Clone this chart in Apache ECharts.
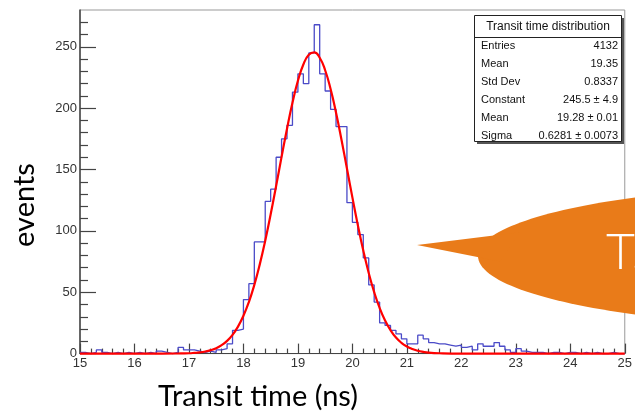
<!DOCTYPE html>
<html><head><meta charset="utf-8">
<script src="https://cdn.jsdelivr.net/npm/echarts@6/dist/echarts.min.js"></script>
<style>html,body{margin:0;padding:0;background:#fff}#c{width:635px;height:415px}</style>
</head><body><div id="c"></div>
<script>
// ---- data ----
const binStart = 15.0;
const binWidth = 0.1;
const counts = [
  1, 0, 1, 3, 1, 0, 1, 0, 1, 0,        // 15.0 - 15.9
  1, 0, 1, 0, 2, 1, 0, 1, 5, 3,        // 16.0 - 16.9
  3, 2, 1, 2, 1, 3, 4, 8, 19, 20,      // 17.0 - 17.9
  44, 57, 91, 91, 124, 134, 160, 175, 186, 213, // 18.0 - 18.9
  228, 220, 245, 268, 228, 214, 199, 185, 185, 123, // 19.0 - 19.9
  107, 97, 78, 56, 42, 25, 23, 19, 16, 12, // 20.0 - 20.9
  8, 8, 15, 12, 9, 8, 8, 7, 6, 7,      // 21.0 - 21.9
  5, 6, 3, 8, 6, 6, 9, 6, 3, 1,        // 22.0 - 22.9
  4, 2, 1, 1, 1, 0, 1, 1, 0, 1,        // 23.0 - 23.9
  1, 0, 1, 0, 1, 0, 0, 1, 0, 0         // 24.0 - 24.9
];
const fitX = [15, 16, 16.5, 16.8, 17.0, 17.1, 17.2, 17.3, 17.4, 17.5, 17.6, 17.7, 17.8, 17.9,
  18.0, 18.1, 18.2, 18.3, 18.4, 18.5, 18.6, 18.7, 18.8, 18.9,
  19.0, 19.1, 19.2, 19.3, 19.4, 19.5, 19.6, 19.7, 19.8, 19.9,
  20.0, 20.1, 20.2, 20.3, 20.4, 20.5, 20.6, 20.7, 20.8, 20.9,
  21.0, 21.1, 21.2, 21.3, 21.4, 21.6, 22, 23, 24, 25];
const fitY = [0, 0, 0, 0.1, 0.3, 0.6, 1.0, 1.7, 2.8, 4.4, 6.9, 10.4, 15.3, 22.0,
  30.8, 42.0, 56.0, 72.7, 92.0, 113.5, 136.6, 160.3, 183.3, 204.4,
  222.3, 235.6, 243.5, 245.4, 241.1, 230.9, 215.6, 196.3, 174.3, 150.8,
  127.3, 104.7, 84.0, 65.7, 50.1, 37.2, 27.0, 19.1, 13.1, 8.8,
  5.8, 3.7, 2.3, 1.4, 0.8, 0.3, 0, 0, 0, 0];
const xTicks = [15, 16, 17, 18, 19, 20, 21, 22, 23, 24, 25];
const yTicks = [0, 50, 100, 150, 200, 250];
const yMinorTicks = [10, 20, 30, 40, 60, 70, 80, 90, 110, 120, 130, 140, 160, 170, 180, 190,
  210, 220, 230, 240, 260, 270];
const statsTitle = 'Transit time distribution';
const statsLabels = ['Entries', 'Mean', 'Std Dev', 'Constant', 'Mean', 'Sigma'];
const statsValues = ['4132', '19.35', '0.8337', '245.5 \u00b1 4.9', '19.28 \u00b1 0.01', '0.6281 \u00b1 0.0073'];
const xTitle = 'Transit time (ns)';
const yTitle = 'events';
const calloutText = 'T.';

// ---- build ----
const histData = counts.map((v, i) => [+(binStart + i * binWidth).toFixed(1), v]);
histData.push([+(binStart + counts.length * binWidth).toFixed(1), counts[counts.length - 1]]);
const fitData = fitX.map((x, i) => [x, fitY[i]]);

const chart = echarts.init(document.getElementById('c'), null, {renderer: 'canvas'});
const axisCol = '#444';
const labelFont = {fontFamily: '"Liberation Sans", Arial, sans-serif', fontSize: 13, color: '#333'};

const graphics = [];
// callout
graphics.push({type: 'ellipse', z: 100, shape: {cx: 828, cy: 256, rx: 350, ry: 70}, style: {fill: '#E97B19'}});
graphics.push({type: 'polygon', z: 100, shape: {points: [[417, 245], [520, 232.3], [500, 261.6]]}, style: {fill: '#E97B19'}});
graphics.push({type: 'text', z: 101, style: {x: 606, y: 253, text: calloutText, fill: '#fff',
  font: '300 50px Lato, "Open Sans", sans-serif', textAlign: 'left', textVerticalAlign: 'middle'}});
// stats box
const bx = 474.5, by = 15.5, bw = 147, bh = 126;
graphics.push({type: 'rect', z: 110, shape: {x: bx + 2.5, y: by + 2.5, width: bw, height: bh}, style: {fill: '#555'}});
graphics.push({type: 'rect', z: 111, shape: {x: bx, y: by, width: bw, height: bh}, style: {fill: '#fff', stroke: '#222', lineWidth: 1}});
graphics.push({type: 'line', z: 112, shape: {x1: bx, y1: 37.5, x2: bx + bw, y2: 37.5}, style: {stroke: '#222', lineWidth: 1}});
graphics.push({type: 'text', z: 112, style: {x: bx + bw / 2, y: 26.5, text: statsTitle, fill: '#111',
  font: '12px "Liberation Sans", Arial, sans-serif', textAlign: 'center', textVerticalAlign: 'middle'}});
statsLabels.forEach((lab, i) => {
  const yy = 46 + i * 17.9;
  graphics.push({type: 'text', z: 112, style: {x: 481, y: yy, text: lab, fill: '#111',
    font: '11px "Liberation Sans", Arial, sans-serif', textAlign: 'left', textVerticalAlign: 'middle'}});
  graphics.push({type: 'text', z: 112, style: {x: 618, y: yy, text: statsValues[i], fill: '#111',
    font: '11px "Liberation Sans", Arial, sans-serif', textAlign: 'right', textVerticalAlign: 'middle'}});
});
// axis titles
graphics.push({type: 'text', z: 50, style: {x: 258, y: 397, text: xTitle, fill: '#000',
  font: '29px Lato, "Open Sans", sans-serif', textAlign: 'center', textVerticalAlign: 'middle'}});
graphics.push({type: 'text', z: 50, x: 25, y: 205, rotation: Math.PI / 2, style: {x: 0, y: 0, text: yTitle, fill: '#000',
  font: '29px Lato, "Open Sans", sans-serif', textAlign: 'center', textVerticalAlign: 'middle'}});

chart.setOption({
  animation: false,
  backgroundColor: '#fff',
  grid: {left: 80, top: 10, width: 552, height: 343.6, show: true, borderColor: '#999', borderWidth: 1, backgroundColor: 'transparent'},
  xAxis: {
    type: 'value', min: 15, max: 25, interval: 1,
    axisLine: {show: true, onZero: false, lineStyle: {color: axisCol, width: 1.2}},
    axisTick: {show: true, inside: true, length: 10, lineStyle: {color: axisCol, width: 1.2}},
    minorTick: {show: true, splitNumber: 5, length: 5, lineStyle: {color: axisCol, width: 1.2}},
    axisLabel: Object.assign({margin: 3, customValues: xTicks}, labelFont),
    splitLine: {show: false}, minorSplitLine: {show: false}
  },
  yAxis: [{
    type: 'value', min: 0, max: 280, interval: 50,
    axisLine: {show: true, onZero: false, lineStyle: {color: axisCol, width: 1.5}},
    axisTick: {show: true, inside: true, length: 16, customValues: yTicks, lineStyle: {color: axisCol, width: 1.2}},
    axisLabel: Object.assign({margin: 3, customValues: yTicks}, labelFont),
    splitLine: {show: false}
  }, {
    type: 'value', min: 0, max: 280, position: 'left',
    axisLine: {show: false},
    axisTick: {show: true, inside: true, length: 8, customValues: yMinorTicks, lineStyle: {color: axisCol, width: 1.2}},
    axisLabel: {show: false},
    splitLine: {show: false}
  }],
  series: [{
    type: 'line', data: histData, step: 'end', showSymbol: false, symbol: 'none',
    lineStyle: {color: '#4b4bc8', width: 1.3}, z: 3, clip: false
  }, {
    type: 'line', data: fitData, smooth: true, showSymbol: false, symbol: 'none',
    lineStyle: {color: '#ff0000', width: 2.2}, z: 4, clip: false
  }],
  graphic: graphics
});
</script>
</body></html>
